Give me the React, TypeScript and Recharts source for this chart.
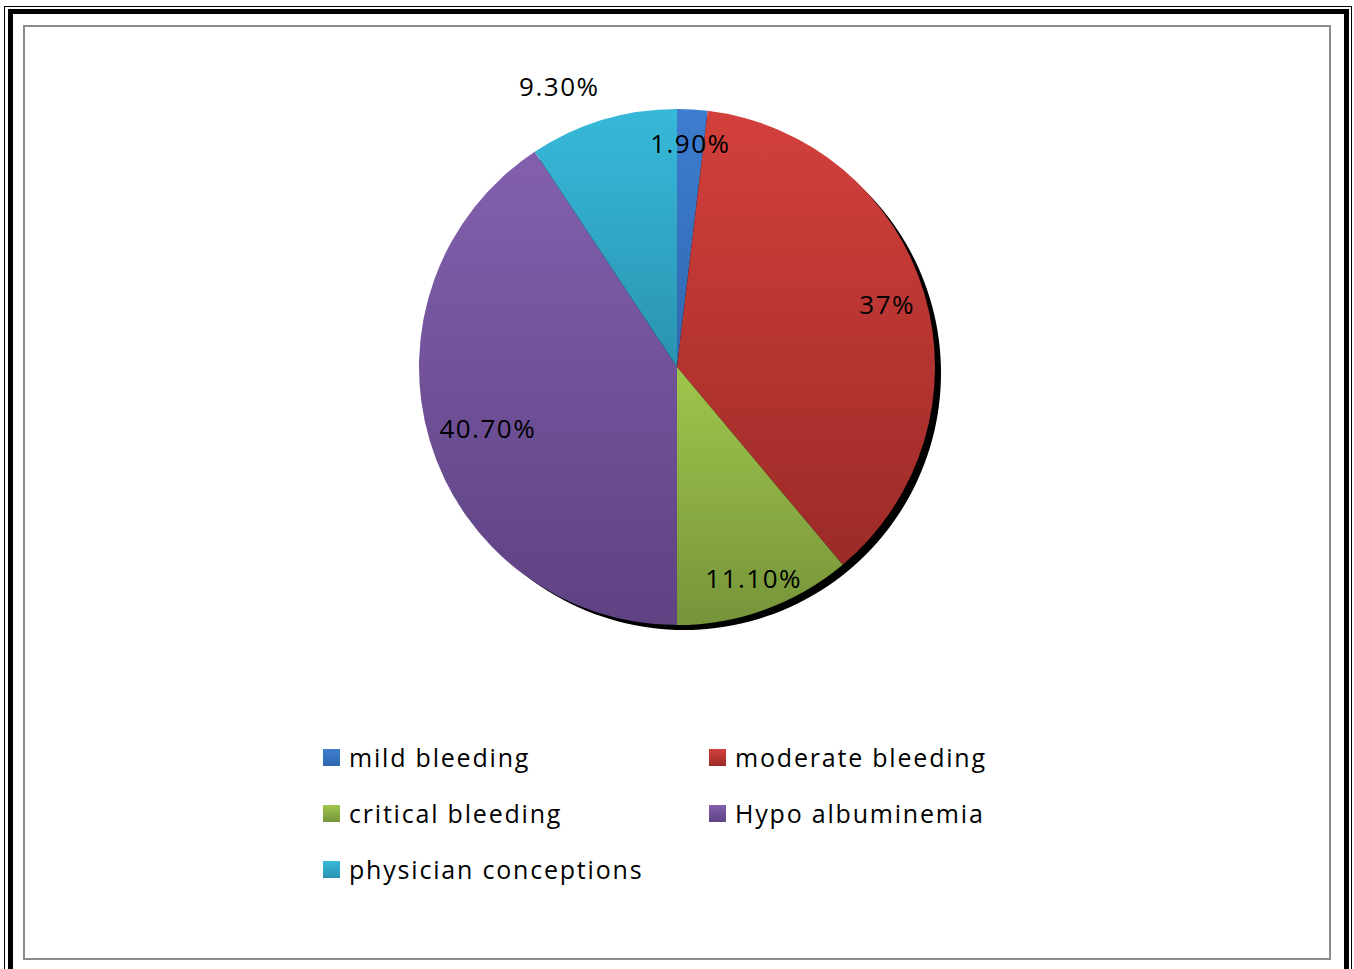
import React from 'react';
import { PieChart, Pie, Cell, Legend } from 'recharts';

const categories = ['mild bleeding', 'moderate bleeding', 'critical bleeding', 'Hypo albuminemia', 'physician conceptions'];
const values = [1.9, 37, 11.1, 40.7, 9.3];
const valueLabels = ['1.90%', '37%', '11.10%', '40.70%', '9.30%'];

const colorsTop = ['#3d7dcf', '#d3403c', '#a0c64c', '#8260ae', '#37b9da'];
const colorsBottom = ['#3068b0', '#9b2a27', '#76943a', '#5e4282', '#2a93b0'];

// label radius as fraction of outer radius, plus angle nudge (deg)
const labelRadius = [0.87, 0.85, 0.87, 0.77, 1.18];
const labelAngleShift = [0, 0, 0, 1, 6];

const data = categories.map((name, i) => ({ name, value: values[i], label: valueLabels[i] }));
const shadowData = [{ name: 'shadow', value: 100 }];

const FONT = '"Open Sans", "Noto Sans", sans-serif';
const RAD = Math.PI / 180;

const renderLabel = (props: any) => {
  const { cx, cy, midAngle, outerRadius, index } = props;
  const a = (midAngle + labelAngleShift[index]) * RAD;
  const r = outerRadius * labelRadius[index];
  const x = cx + r * Math.cos(a);
  const y = cy - r * Math.sin(a);
  return (
    <text
      x={x}
      y={y}
      textAnchor="middle"
      dominantBaseline="central"
      fill="#000"
      style={{ fontFamily: FONT, fontSize: 26, letterSpacing: 1.5 }}
    >
      {valueLabels[index]}
    </text>
  );
};

const renderLegend = () => (
  <div
    style={{
      display: 'grid',
      gridTemplateColumns: '386px 386px',
      rowGap: 20,
      fontFamily: FONT,
      fontSize: 25,
      letterSpacing: 1.8,
      color: '#000',
    }}
  >
    {categories.map((c, i) => (
      <div key={c} style={{ display: 'flex', alignItems: 'center', height: 36 }}>
        <span
          style={{
            display: 'inline-block',
            width: 17,
            height: 17,
            marginRight: 9,
            background: `linear-gradient(${colorsTop[i]}, ${colorsBottom[i]})`,
          }}
        />
        <span>{c}</span>
      </div>
    ))}
  </div>
);

export default function App() {
  return (
    <div style={{ position: 'absolute', left: 0, top: 0, width: 1354, height: 969, overflow: 'hidden', background: '#fff' }}>
      <div style={{ position: 'absolute', left: 4, top: 6, width: 1348, height: 1000, border: '1px solid #000', boxSizing: 'border-box' }} />
      <div style={{ position: 'absolute', left: 8, top: 9, width: 1341, height: 1000, border: '5px solid #000', boxSizing: 'border-box' }} />
      <div style={{ position: 'absolute', left: 23, top: 25, width: 1308, height: 935, border: '2px solid #8c8c8c', boxSizing: 'border-box' }} />
      <div style={{ position: 'absolute', left: 0, top: 0 }}>
        <PieChart width={1354} height={969} margin={{ top: 0, right: 0, bottom: 0, left: 0 }}>
          <defs>
            {categories.map((c, i) => (
              <linearGradient key={c} id={`grad${i}`} x1="0" y1="0" x2="0" y2="1">
                <stop offset="0%" stopColor={colorsTop[i]} />
                <stop offset="100%" stopColor={colorsBottom[i]} />
              </linearGradient>
            ))}
          </defs>
          <Pie
            data={shadowData}
            dataKey="value"
            cx={684}
            cy={373}
            outerRadius={257}
            fill="#000"
            stroke="none"
            isAnimationActive={false}
            legendType="none"
          />
          <Pie
            data={data}
            dataKey="value"
            nameKey="name"
            cx={677}
            cy={367}
            outerRadius={258}
            startAngle={90}
            endAngle={-270}
            stroke="none"
            label={renderLabel}
            labelLine={false}
            isAnimationActive={false}
          >
            {data.map((d, i) => (
              <Cell key={d.name} fill={`url(#grad${i})`} />
            ))}
          </Pie>
          <Legend
            content={renderLegend}
            wrapperStyle={{ position: 'absolute', left: 323, top: 739, width: 800 }}
          />
        </PieChart>
      </div>
    </div>
  );
}
